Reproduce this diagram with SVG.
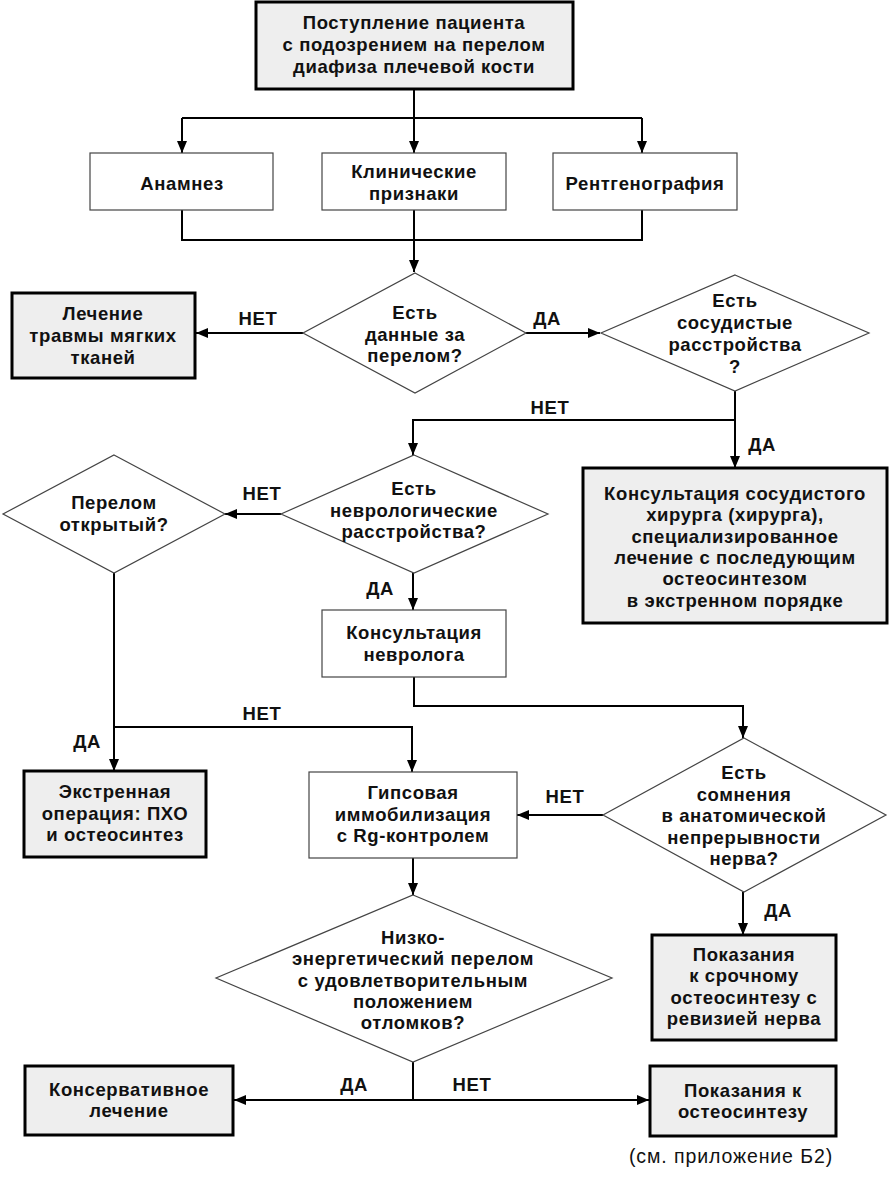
<svg xmlns="http://www.w3.org/2000/svg" width="890" height="1181" viewBox="0 0 890 1181">
<style>
text{font-family:"Liberation Sans","Open Sans",sans-serif;font-weight:bold;font-size:18.5px;letter-spacing:0.6px;fill:#111;text-anchor:middle;dominant-baseline:central}
.thick{fill:#eeeeee;stroke:#000;stroke-width:3}
.thin{fill:#fff;stroke:#444;stroke-width:1.2}
.dia{fill:#fff;stroke:#444;stroke-width:1.2}
.c{fill:none;stroke:#000;stroke-width:2}
.a{marker-end:url(#ah)}
.note{font-weight:normal;font-size:19.5px;letter-spacing:0.9px}
</style>
<defs>
<marker id="ah" viewBox="0 0 12 10" refX="12" refY="5" markerWidth="12" markerHeight="10" markerUnits="userSpaceOnUse" orient="auto">
<path d="M0,0 L12,5 L0,10 z" fill="#000"/>
</marker>
</defs>
<g id="connectors">
<path class="c" d="M414,89 V118 M182,118 H642"/>
<path class="c a" d="M182,118 V153"/>
<path class="c a" d="M414,118 V153"/>
<path class="c a" d="M642,118 V153"/>
<path class="c" d="M182,210 V240 H642 V210"/>
<path class="c a" d="M414,210 V272"/>
<path class="c a" d="M303,333 H196"/>
<path class="c a" d="M526,333 H600"/>
<path class="c a" d="M735,391 V420 H413 V455"/>
<path class="c a" d="M735,420 V468"/>
<path class="c a" d="M281,514 H225"/>
<path class="c a" d="M413,573 V610"/>
<path class="c a" d="M114,573 V771"/>
<path class="c a" d="M114,727 H412 V772"/>
<path class="c a" d="M414,677 V706 H743 V738"/>
<path class="c a" d="M603,815 H517"/>
<path class="c a" d="M743,892 V935"/>
<path class="c a" d="M413,858 V895"/>
<path class="c" d="M413,1062 V1100"/>
<path class="c a" d="M413,1100 H234"/>
<path class="c a" d="M413,1100 H649"/>
<text x="258" y="318">НЕТ</text>
<text x="547" y="318">ДА</text>
<text x="550" y="407">НЕТ</text>
<text x="762" y="444">ДА</text>
<text x="262" y="493">НЕТ</text>
<text x="380" y="588">ДА</text>
<text x="262" y="713">НЕТ</text>
<text x="87" y="741">ДА</text>
<text x="565" y="796">НЕТ</text>
<text x="778" y="910">ДА</text>
<text x="354" y="1084">ДА</text>
<text x="472" y="1084">НЕТ</text>
</g>
<g id="start">
<rect class="thick" x="256" y="2" width="317" height="87"/>
<text x="414" y="22">Поступление пациента<tspan x="414" dy="22">с подозрением на перелом</tspan><tspan x="414" dy="22">диафиза плечевой кости</tspan></text>
</g>
<g id="anamnez">
<rect class="thin" x="90" y="153" width="183" height="57"/>
<text x="182" y="183">Анамнез</text>
</g>
<g id="clinic">
<rect class="thin" x="322" y="153" width="184" height="57"/>
<text x="414" y="171">Клинические<tspan x="414" dy="21.5">признаки</tspan></text>
</g>
<g id="rentgen">
<rect class="thin" x="553" y="153" width="184" height="57"/>
<text x="645" y="183">Рентгенография</text>
</g>
<g id="d1">
<polygon class="dia" points="415,273 526,333 415,393 303,333"/>
<text x="415" y="312">Есть<tspan x="415" dy="21.5">данные за</tspan><tspan x="415" dy="21.5">перелом?</tspan></text>
</g>
<g id="soft">
<rect class="thick" x="12" y="293" width="183" height="85"/>
<text x="103" y="313">Лечение<tspan x="103" dy="22">травмы мягких</tspan><tspan x="103" dy="22">тканей</tspan></text>
</g>
<g id="d2">
<polygon class="dia" points="735,275 869,333 735,391 601,333"/>
<text x="735" y="300">Есть<tspan x="735" dy="22">сосудистые</tspan><tspan x="735" dy="22">расстройства</tspan><tspan x="735" dy="21.5">?</tspan></text>
</g>
<g id="vasc">
<rect class="thick" x="583" y="468" width="304" height="155"/>
<text x="735" y="493">Консультация сосудистого<tspan x="735" dy="21.3">хирурга (хирурга),</tspan><tspan x="735" dy="21.3">специализированное</tspan><tspan x="735" dy="21.3">лечение с последующим</tspan><tspan x="735" dy="21.3">остеосинтезом</tspan><tspan x="735" dy="21.3">в экстренном порядке</tspan></text>
</g>
<g id="d3">
<polygon class="dia" points="414,455 548,514 414,573 281,514"/>
<text x="414" y="488">Есть<tspan x="414" dy="21.5">неврологические</tspan><tspan x="414" dy="21.5">расстройства?</tspan></text>
</g>
<g id="d4">
<polygon class="dia" points="114,455 225,514 114,573 3,514"/>
<text x="114" y="502">Перелом<tspan x="114" dy="22">открытый?</tspan></text>
</g>
<g id="neuro">
<rect class="thin" x="322" y="610" width="184" height="67"/>
<text x="414" y="632">Консультация<tspan x="414" dy="22">невролога</tspan></text>
</g>
<g id="emerg">
<rect class="thick" x="24" y="771" width="182" height="86"/>
<text x="115" y="791">Экстренная<tspan x="115" dy="21.5">операция: ПХО</tspan><tspan x="115" dy="21.5">и остеосинтез</tspan></text>
</g>
<g id="gips">
<rect class="thin" x="309" y="772" width="208" height="86"/>
<text x="413" y="792">Гипсовая<tspan x="413" dy="21.5">иммобилизация</tspan><tspan x="413" dy="21.5">с Rg-контролем</tspan></text>
</g>
<g id="d5">
<polygon class="dia" points="744,738 886,815 744,892 603,815"/>
<text x="744" y="772">Есть<tspan x="744" dy="21.5">сомнения</tspan><tspan x="744" dy="21.5">в анатомической</tspan><tspan x="744" dy="21.5">непрерывности</tspan><tspan x="744" dy="21.5">нерва?</tspan></text>
</g>
<g id="urgent">
<rect class="thick" x="652" y="935" width="184" height="105"/>
<text x="744" y="954">Показания<tspan x="744" dy="21.3">к срочному</tspan><tspan x="744" dy="21.3">остеосинтезу с</tspan><tspan x="744" dy="21.3">ревизией нерва</tspan></text>
</g>
<g id="d6">
<polygon class="dia" points="413,895 612,978 413,1062 216,978"/>
<text x="413" y="937">Низко-<tspan x="413" dy="21.3">энергетический перелом</tspan><tspan x="413" dy="21.3">с удовлетворительным</tspan><tspan x="413" dy="21.3">положением</tspan><tspan x="413" dy="21.3">отломков?</tspan></text>
</g>
<g id="conserv">
<rect class="thick" x="25" y="1066" width="208" height="69"/>
<text x="129" y="1089">Консервативное<tspan x="129" dy="21.3">лечение</tspan></text>
</g>
<g id="osteo">
<rect class="thick" x="650" y="1066" width="186" height="70"/>
<text x="743" y="1090">Показания к<tspan x="743" dy="21.3">остеосинтезу</tspan></text>
<text class="note" x="731" y="1156">(см. приложение Б2)</text>
</g>
</svg>
